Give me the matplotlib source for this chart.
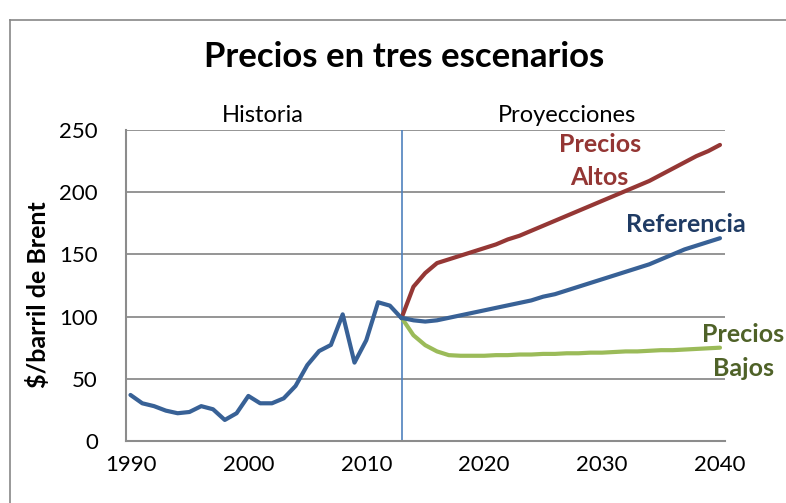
import matplotlib
matplotlib.use("Agg")
import matplotlib.pyplot as plt

plt.rcParams['font.family'] = ['Lato', 'DejaVu Sans']

# historical Brent prices ($/barrel), 1990-2013
hist_years = list(range(1990, 2014))
hist_prices = [37, 30.3, 28, 24.4, 22.3, 23.3, 28, 25.5, 16.9, 22.3,
               36.2, 30.3, 30.3, 34.3, 44.2, 61, 72.3, 77.2, 101.8, 63,
               81, 111.5, 108.8, 98.6]

# projections, 2013-2040
proj_years = list(range(2013, 2041))
altos = [99, 124, 135, 143, 146, 149, 152, 155, 158, 162, 165, 169, 173, 177,
         181, 185, 189, 193, 197, 201, 205, 209, 214, 219, 224, 229, 233, 238]
referencia = [99, 97, 96, 97, 99, 101, 103, 105, 107, 109, 111, 113, 116, 118,
              121, 124, 127, 130, 133, 136, 139, 142, 146, 150, 154, 157, 160, 163]
bajos = [99, 85, 77, 72, 69, 68.5, 68.5, 68.5, 69, 69, 69.5, 69.5, 70, 70,
         70.5, 70.5, 71, 71, 71.5, 72, 72, 72.5, 73, 73, 73.5, 74, 74.5, 75]

x_ticks = [1990, 2000, 2010, 2020, 2030, 2040]
y_ticks = [0, 50, 100, 150, 200, 250]
split_year = 2013

blue = '#386196'
red = '#953735'
green = '#9BBB59'

fig = plt.figure(figsize=(7.86, 5.03), dpi=100)
ax = fig.add_axes([0.160, 0.1233, 0.762, 0.6183])

# outer chart frame (partly cropped like the original)
fig.add_artist(plt.Line2D([10 / 786, 1], [1 - 20 / 503] * 2, color='#888888', lw=1.2))
fig.add_artist(plt.Line2D([10 / 786] * 2, [0, 1 - 20 / 503], color='#888888', lw=1.2))

for y in y_ticks[1:]:
    ax.axhline(y, color='#8C8C8C', lw=1.3, zorder=1)
ax.axvline(split_year, color='#4F81BD', lw=1.2, zorder=2)

lw = 3.0
ax.plot(proj_years, bajos, color=green, lw=lw, solid_capstyle='round', zorder=3)
ax.plot(proj_years, altos, color=red, lw=lw, solid_capstyle='round', zorder=3)
ax.plot(proj_years, referencia, color=blue, lw=lw, solid_capstyle='round', zorder=4)
ax.plot(hist_years, hist_prices, color=blue, lw=lw, solid_capstyle='round',
        solid_joinstyle='round', zorder=4)

ax.set_xlim(1989.6, 2040.4)
ax.set_ylim(0, 250)
ax.set_xticks(x_ticks)
ax.set_yticks(y_ticks)
ax.tick_params(axis='x', length=0, labelsize=16, pad=10)
ax.tick_params(axis='y', length=0, labelsize=16, pad=20)
for s in ['top', 'right']:
    ax.spines[s].set_visible(False)
for s in ['left', 'bottom']:
    ax.spines[s].set_color('#8C8C8C')
    ax.spines[s].set_linewidth(1.5)

ax.set_ylabel('$/barril de Brent', fontsize=18, fontweight='bold')
ax.yaxis.set_label_coords(-0.127, 0.47)

fig.text(0.514, 1 - 57 / 503, 'Precios en tres escenarios', ha='center', va='center',
         fontsize=25, fontweight='bold')
fig.text(263 / 786, 1 - 115 / 503, 'Historia', ha='center', va='center', fontsize=17)
fig.text(567 / 786, 1 - 115 / 503, 'Proyecciones', ha='center', va='center', fontsize=17)

ax.text(2029.8, 225, 'Precios\nAltos', color='#943634', fontsize=18, fontweight='bold',
        ha='center', va='center', linespacing=1.55, clip_on=False)
ax.text(2037.1, 174, 'Referencia', color='#1F3B64', fontsize=18, fontweight='bold',
        ha='center', va='center', clip_on=False)
ax.text(2042, 72, 'Precios\nBajos', color='#4F6228', fontsize=18, fontweight='bold',
        ha='center', va='center', linespacing=1.55, clip_on=False)

fig.savefig('out.png', dpi=100)
